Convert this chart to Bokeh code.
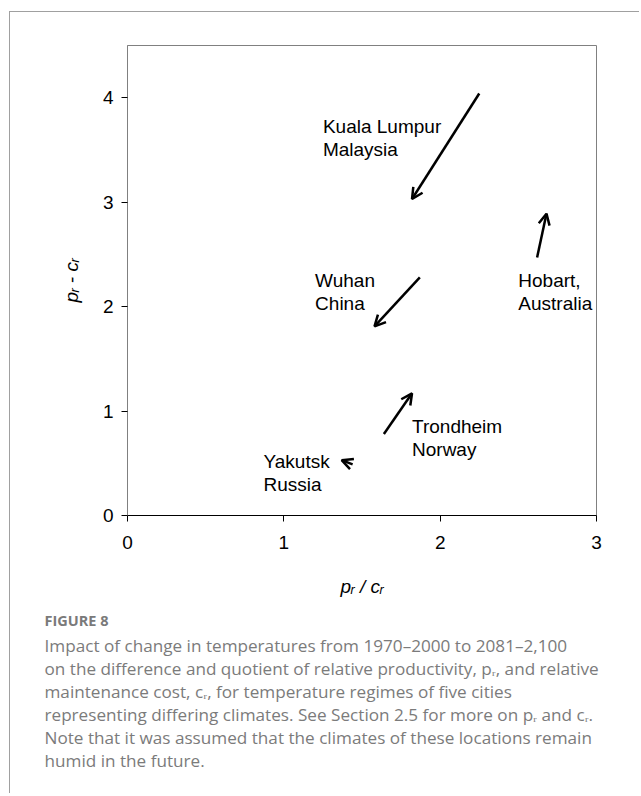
from bokeh.plotting import figure
from bokeh.models import ColumnDataSource, Arrow, OpenHead, FixedTicker, Range1d, Title
from bokeh.core.properties import value
from bokeh.embed import file_html
from bokeh.resources import INLINE

# ---- data ----
cities = ["Kuala Lumpur", "Wuhan", "Hobart,", "Trondheim", "Yakutsk"]
countries = ["Malaysia", "China", "Australia", "Norway", "Russia"]
# start (1970-2000) and end (2081-2100) of each arrow
quotient_start = [2.25, 1.87, 2.62, 1.64, 1.44]
difference_start = [4.04, 2.28, 2.47, 0.78, 0.49]
quotient_end = [1.82, 1.58, 2.68, 1.82, 1.37]
difference_end = [3.03, 1.81, 2.89, 1.17, 0.53]
# label anchor (left edge, first line) in data units
label_x = [1.25, 1.20, 2.50, 1.82, 0.87]
label_y = [3.72, 2.25, 2.25, 0.85, 0.52]

x_ticks = [0, 1, 2, 3]
y_ticks = [0, 1, 2, 3, 4]

x_title = "p\u1d63 / c\u1d63"
y_title = "p\u1d63 - c\u1d63"

caption_head = "FIGURE 8"
caption_lines = [
    "Impact of change in temperatures from 1970\u20132000 to 2081\u20132,100",
    "on the difference and quotient of relative productivity, p\u1d63, and relative",
    "maintenance cost, c\u1d63, for temperature regimes of five cities",
    "representing differing climates. See Section 2.5 for more on p\u1d63 and c\u1d63.",
    "Note that it was assumed that the climates of these locations remain",
    "humid in the future.",
]

arrows = ColumnDataSource(dict(x0=quotient_start, y0=difference_start,
                               x1=quotient_end, y1=difference_end))
labels = ColumnDataSource(dict(x=label_x, y=label_y, city=cities, country=countries))

FONT = "Liberation Sans"

p = figure(width=630, height=782, output_backend="svg", toolbar_location=None,
           x_range=Range1d(0, 3), y_range=Range1d(0, 4.5),
           min_border_left=117, min_border_right=44, min_border_top=33,
           min_border_bottom=279)
p.styles = {"margin-left": "9px", "margin-top": "11px",
            "border-left": "1px solid #a0a0a0", "border-top": "1px solid #a0a0a0"}

p.grid.visible = False
p.outline_line_color = "#808080"
p.outline_line_width = 1
p.background_fill_color = "white"
p.border_fill_color = "white"

for ax, ticks in ((p.xaxis, x_ticks), (p.yaxis, y_ticks)):
    ax.ticker = FixedTicker(ticks=ticks)
    ax.minor_tick_line_color = None
    ax.major_tick_in = 0
    ax.major_tick_out = 6
    ax.major_tick_line_color = "black"
    ax.major_label_text_font = FONT
    ax.major_label_text_font_size = "19px"
    ax.major_label_text_color = "black"
    ax.axis_label_text_font = FONT
    ax.axis_label_text_font_size = "19px"
    ax.axis_label_text_font_style = "italic"
    ax.axis_label_text_color = "black"

p.xaxis.axis_line_color = "black"
p.xaxis.axis_line_width = 1.2
p.yaxis.axis_line_color = "#808080"
p.xaxis.major_label_standoff = 14
p.yaxis.major_label_standoff = 8
p.xaxis.axis_label = x_title
p.yaxis.axis_label = y_title
p.xaxis.axis_label_standoff = 24
p.yaxis.axis_label_standoff = 18

p.add_layout(Arrow(end=OpenHead(size=11, line_width=2.5, line_color="black"),
                   x_start="x0", y_start="y0", x_end="x1", y_end="y1",
                   line_width=2.5, line_color="black", source=arrows))

p.text(x="x", y="y", text="city", source=labels, text_font=value(FONT),
       text_font_size="19px", text_color="black", text_baseline="middle",
       text_align="left")
p.text(x="x", y="y", text="country", source=labels, text_font=value(FONT),
       text_font_size="19px", text_color="black", text_baseline="middle",
       text_align="left", y_offset=23)

# spacer between the axis title and the caption block
p.add_layout(Title(text=" ", text_font_size="1px", standoff=5.6), "below")
p.add_layout(Title(text=caption_head, align="left", offset=-83, standoff=0,
                   vertical_align="bottom",
                   text_font="Open Sans", text_font_size="14.5px",
                   text_font_style="bold", text_color="#7a7a7a"), "below")
p.add_layout(Title(text="\n".join(caption_lines), align="left", offset=-83,
                   standoff=8, vertical_align="top", text_line_height=1.0,
                   text_font="Open Sans", text_font_size="17.15px",
                   text_font_style="normal", text_color="#7b7b7b"), "below")

open("out.html", "w").write(file_html(p, INLINE))
